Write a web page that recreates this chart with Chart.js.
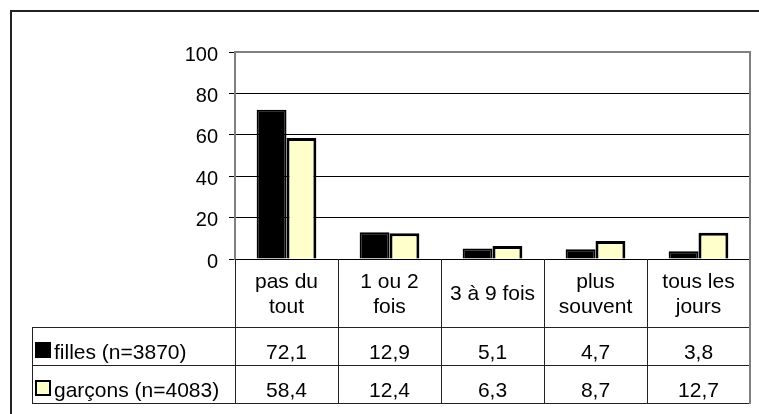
<!DOCTYPE html>
<html>
<head>
<meta charset="utf-8">
<script src="https://cdn.jsdelivr.net/npm/chart.js@4"></script>
<style>
  html, body { margin: 0; padding: 0; background: #fff; }
</style>
</head>
<body>
<canvas id="myChart" width="759" height="414"></canvas>
<script>
const categories = [['pas du', 'tout'], ['1 ou 2', 'fois'], '3 à 9 fois', ['plus', 'souvent'], ['tous les', 'jours']]
const seriesNames = ['filles (n=3870)', 'garçons (n=4083)']
const filles = [72.1, 12.9, 5.1, 4.7, 3.8]
const garcons = [58.4, 12.4, 6.3, 8.7, 12.7]
const yTicks = [0, 20, 40, 60, 80, 100]

const FONT = "Arial, 'Liberation Sans', sans-serif"
const seriesColors = ['#000000', '#FFFFCC']

// frame round the whole chart + the data table under the x axis
const tablePlugin = {
    id: 'tablePlugin',
    beforeDraw(chart) {
        const c = chart.ctx
        c.save()
        c.strokeStyle = '#222'
        c.lineWidth = 2
        c.beginPath()
        c.moveTo(11, 430)
        c.lineTo(11, 11)
        c.lineTo(780, 11)
        c.stroke()
        c.restore()
    },
    afterDraw(chart) {
        const c = chart.ctx
        const a = chart.chartArea
        const x = chart.scales.x
        const rowH = 38
        const headBottom = x.bottom
        const tableLeft = 32
        const tableBottom = headBottom + rowH * 2

        c.save()
        // plot border top / right
        c.strokeStyle = '#808080'
        c.lineWidth = 2
        c.beginPath()
        c.moveTo(a.left, a.top)
        c.lineTo(a.right, a.top)
        c.lineTo(a.right, a.bottom)
        c.stroke()

        // table lines
        c.strokeStyle = '#222'
        c.lineWidth = 1
        c.beginPath()
        for (let i = 0; i < categories.length; i++) {
            const ex = Math.round(x.getPixelForValue(i - 0.5)) + 0.5
            c.moveTo(ex, a.bottom)
            c.lineTo(ex, tableBottom)
        }
        c.moveTo(tableLeft + 0.5, headBottom)
        c.lineTo(tableLeft + 0.5, tableBottom)
        for (let r = 0; r < 3; r++) {
            const ly = Math.round(headBottom + r * rowH) + 0.5
            c.moveTo(tableLeft, ly)
            c.lineTo(a.right, ly)
        }
        c.stroke()
        c.strokeStyle = '#808080'
        c.lineWidth = 2
        c.beginPath()
        c.moveTo(a.right, a.bottom)
        c.lineTo(a.right, tableBottom + 1)
        c.stroke()

        // rows: legend key, name, values
        const rows = [filles, garcons]
        c.font = '21px ' + FONT
        c.fillStyle = '#000'
        c.textBaseline = 'alphabetic'
        rows.forEach((vals, r) => {
            const top = headBottom + r * rowH
            const base = top + rowH - 6
            c.fillStyle = seriesColors[r]
            c.fillRect(36, top + 16, 14, 14)
            c.strokeStyle = '#000'
            c.lineWidth = 2
            c.strokeRect(36, top + 16, 14, 14)
            c.fillStyle = '#000'
            c.textAlign = 'left'
            c.fillText(seriesNames[r], 54, base)
            c.textAlign = 'center'
            vals.forEach((v, i) => {
                c.fillText(v.toFixed(1).replace('.', ','), x.getPixelForValue(i), base)
            })
        })
        c.restore()
    }
}

new Chart(document.getElementById('myChart'), {
    type: 'bar',
    data: {
        labels: categories,
        datasets: [{
            label: seriesNames[0],
            data: filles,
            backgroundColor: seriesColors[0],
            borderColor: '#000',
            borderWidth: 2
        }, {
            label: seriesNames[1],
            data: garcons,
            backgroundColor: seriesColors[1],
            borderColor: '#000',
            borderWidth: 3
        }]
    },
    options: {
        responsive: false,
        animation: false,
        categoryPercentage: 0.58,
        barPercentage: 1,
        layout: { padding: { left: 0, top: 52, right: 9, bottom: 87 } },
        plugins: {
            legend: { display: false },
            tooltip: { enabled: false }
        },
        scales: {
            x: {
                grid: { display: false, drawTicks: false },
                border: { display: true, color: '#000', width: 1 },
                ticks: {
                    color: '#000',
                    font: { family: FONT, size: 21, lineHeight: 1.2 },
                    crossAlign: 'center',
                    padding: 23,
                    maxRotation: 0,
                    autoSkip: false
                },
                afterFit(scale) { scale.height = 68 }
            },
            y: {
                min: 0,
                max: 100,
                afterBuildTicks(scale) { scale.ticks = yTicks.map(v => ({ value: v })) },
                grid: {
                    color: ctx => (ctx.tick && (ctx.tick.value === 0 || ctx.tick.value === 100)) ? 'rgba(0,0,0,0)' : '#000',
                    tickColor: '#000',
                    tickLength: 6,
                    lineWidth: 1
                },
                border: { color: '#808080', width: 2 },
                ticks: {
                    color: '#000',
                    font: { family: FONT, size: 20 },
                    padding: 11,
                    labelOffset: 3
                },
                afterFit(scale) { scale.width = 235 }
            }
        }
    },
    plugins: [tablePlugin]
})
</script>
</body>
</html>
